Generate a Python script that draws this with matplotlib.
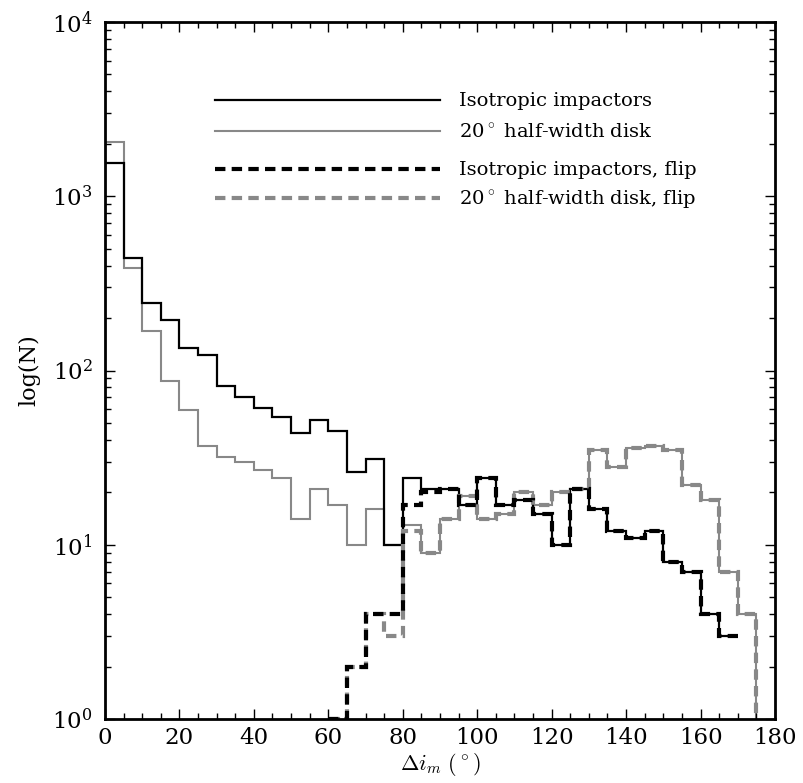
import numpy as np
import matplotlib
matplotlib.use("Agg")
import matplotlib.pyplot as plt

plt.rcParams['font.family'] = 'DejaVu Serif'
plt.rcParams['mathtext.fontset'] = 'cm'
plt.rcParams['lines.scale_dashes'] = False

# counts per 5 degree bin
iso_start = 0
iso_counts = [1550, 444, 243, 195, 135, 122, 81, 70, 61, 54, 44, 52, 45, 26, 31, 10,
              24, 21, 21, 17, 24, 17, 18, 15, 10, 21, 16, 12, 11, 12, 8, 7, 4, 3]
disk_start = 0
disk_counts = [2060, 389, 169, 87, 59, 37, 32, 30, 27, 24, 14, 21, 17, 10, 16, 10,
               13, 9, 14, 19, 14, 15, 20, 17, 20, 21, 35, 28, 36, 37, 35, 22, 18, 7, 4]
iso_flip_start = 60
iso_flip_counts = [1, 2, 4, 4, 17, 20, 21, 17, 24, 17, 18, 15, 10, 21, 16, 12, 11, 12, 8, 7, 4, 3]
disk_flip_start = 60
disk_flip_counts = [1, 2, 4, 3, 12, 9, 14, 19, 14, 15, 20, 17, 20, 21, 35, 28, 36, 37, 35, 22, 18, 7, 4]
bin_width = 5

labels = ['Isotropic impactors', r'20$^\circ$ half-width disk',
          'Isotropic impactors, flip', r'20$^\circ$ half-width disk, flip']


def edges(start, counts):
    return start + bin_width * np.arange(len(counts) + 1)


fig = plt.figure(figsize=(8.04, 7.83), dpi=100)
ax = fig.add_axes([105/804, 64/783, 670/804, 697/783])

gray = '#888888'
dash = (0, (7.5, 4.5))
ax.stairs(disk_counts, edges(disk_start, disk_counts), baseline=0.1,
          color=gray, lw=1.5)
ax.stairs(iso_counts, edges(iso_start, iso_counts), baseline=None,
          color='black', lw=1.6)
ax.stairs(disk_flip_counts, edges(disk_flip_start, disk_flip_counts), baseline=0.1,
          color=gray, lw=3, linestyle=dash)
ax.stairs(iso_flip_counts, edges(iso_flip_start, iso_flip_counts), baseline=None,
          color='black', lw=3, linestyle=dash)

ax.set_yscale('log')
ax.set_xlim(0, 180)
ax.set_ylim(1, 1e4)
ax.set_xticks(np.arange(0, 181, 20))
ax.set_xticks(np.arange(0, 181, 5), minor=True)
ax.tick_params(which='both', direction='in', top=True, right=True, labelsize=16.5)
ax.tick_params(which='major', length=7, width=1)
ax.tick_params(which='minor', length=4, width=1)
ax.tick_params(axis='x', pad=6)
ax.tick_params(axis='y', pad=9)
for s in ax.spines.values():
    s.set_linewidth(2)

ax.set_xlabel(r'$\Delta i_m\ (^\circ)$', fontsize=16, labelpad=1)
ax.set_ylabel('log(N)', fontsize=16, labelpad=8)

h1 = [plt.Line2D([], [], color='black', lw=1.6), plt.Line2D([], [], color=gray, lw=1.5)]
h2 = [plt.Line2D([], [], color='black', lw=3, linestyle=dash),
      plt.Line2D([], [], color=gray, lw=3, linestyle=dash)]
leg1 = ax.legend(h1, labels[:2], loc='upper left', bbox_to_anchor=(0.149, 0.913),
                 frameon=False, fontsize=14, handlelength=11.6, handletextpad=0.95,
                 labelspacing=0.66, borderpad=0)
ax.add_artist(leg1)
ax.legend(h2, labels[2:], loc='upper left', bbox_to_anchor=(0.149, 0.814),
          frameon=False, fontsize=14, handlelength=11.6, handletextpad=0.95,
          labelspacing=0.45, borderpad=0)

fig.savefig('out.png', dpi=100)
